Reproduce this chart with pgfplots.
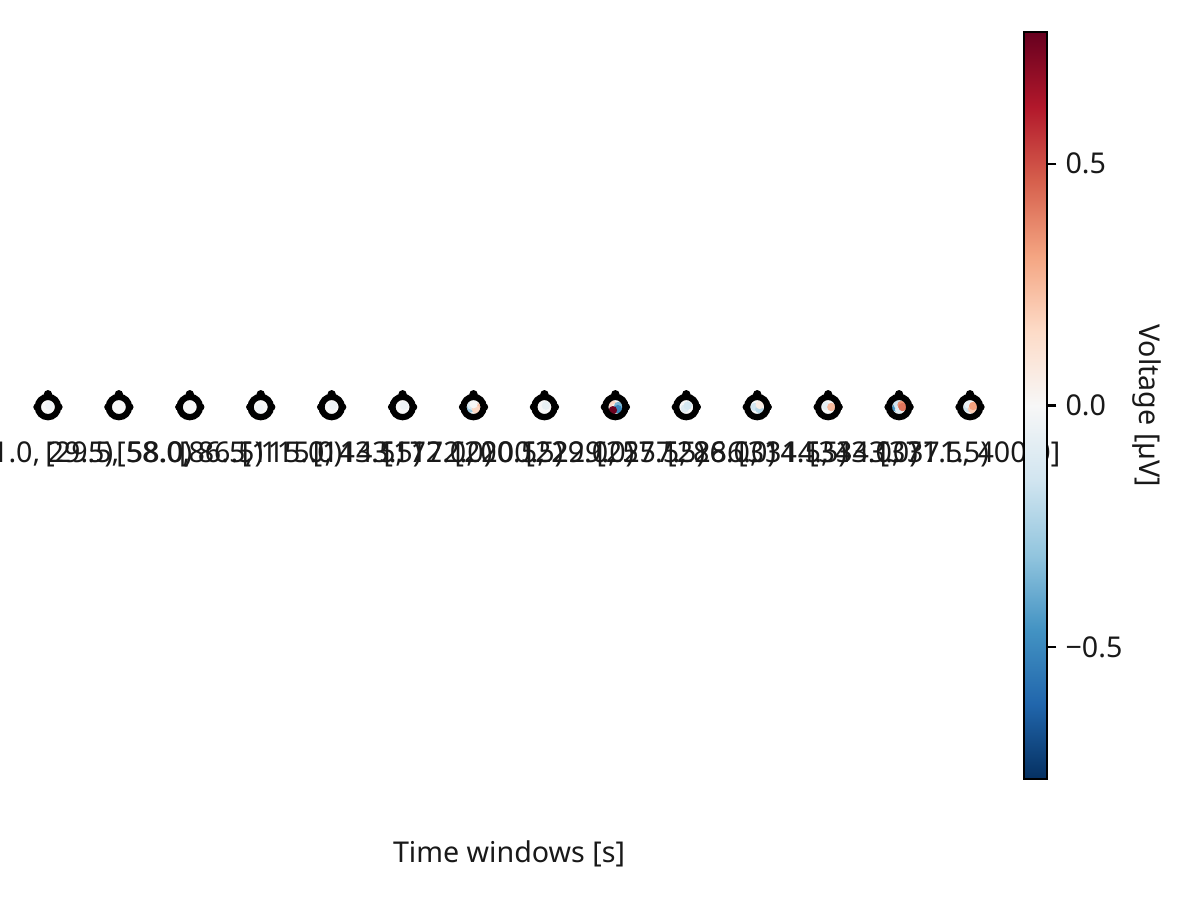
\documentclass[border=0pt]{standalone}
\usepackage{fontspec}
\setmainfont{Noto Sans}
\usepackage{pgfplots}
\usepackage{pgfplotstable}
\pgfplotsset{compat=1.18}
\pgfplotsset{colormap={RdBu}{rgb255=(5,48,97) rgb255=(33,102,172) rgb255=(67,147,195) rgb255=(146,197,222) rgb255=(209,229,240) rgb255=(247,247,247) rgb255=(253,219,199) rgb255=(244,165,130) rgb255=(214,96,77) rgb255=(178,24,43) rgb255=(103,0,31)}}
\definecolor{headfill}{RGB}{247,247,247}

% head centres (one per time window)
\pgfplotstableread{
x y
0 0
1 0
2 0
3 0
4 0
5 0
6 0
7 0
8 0
9 0
10 0
11 0
12 0
13 0
}\heads

% noses
\pgfplotstableread{
x y
0 0.18
1 0.18
2 0.18
3 0.18
4 0.18
5 0.18
6 0.18
7 0.18
8 0.18
9 0.18
10 0.18
11 0.18
12 0.18
13 0.18
}\noses

% ears
\pgfplotstableread{
x y
-0.155 0
0.155 0
0.845 0
1.155 0
1.845 0
2.155 0
2.845 0
3.155 0
3.845 0
4.155 0
4.845 0
5.155 0
5.845 0
6.155 0
6.845 0
7.155 0
7.845 0
8.155 0
8.845 0
9.155 0
9.845 0
10.155 0
10.845 0
11.155 0
11.845 0
12.155 0
12.845 0
13.155 0
}\ears

% topography patches inside the heads: x y voltage
\pgfplotstableread{
x y c
0.02 0.02 -0.03
2.98 -0.02 -0.03
4.02 0.02 -0.04
5.02 0.02 -0.04
5.96 -0.02 -0.28
5.97 0.02 -0.12
6.04 0.00 0.22
6.035 -0.035 0.16
6.00 0.04 0.00
7.02 0.02 -0.06
7.965 0.03 0.16
8.00 -0.01 0.04
8.04 0.015 -0.35
8.035 -0.03 -0.50
7.965 -0.045 0.76
8.98 -0.02 -0.10
9.02 0.02 -0.14
9.965 0.00 -0.15
10.03 -0.03 -0.22
10.035 0.03 0.06
10.97 0.015 -0.08
11.045 0.00 0.25
11.96 -0.01 -0.45
11.98 0.035 -0.15
12.00 -0.035 -0.10
12.035 0.03 0.35
12.05 0.00 0.42
12.965 -0.015 -0.16
12.98 0.035 -0.05
13.03 -0.03 0.20
13.045 0.015 0.32
}\patches

\begin{document}
\begin{tikzpicture}
\path[use as bounding box] (0,0) rectangle (460.8pt,345.6pt);
\begin{axis}[
  at={(4.8pt,46.46pt)}, anchor=south west,
  scale only axis, width=381.3pt, height=286.85pt,
  xmin=-0.5, xmax=13.5, ymin=-5.245, ymax=5.288,
  axis x line=middle, axis y line=none,
  axis line style={draw=none},
  xtick={0,...,13},
  xticklabels={{[1.0, 29.5)},{[29.5, 58.0)},{[58.0, 86.5)},{[86.5, 115.0)},{[115.0, 143.5)},{[143.5, 172.0)},{[172.0, 200.5)},{[200.5, 229.0)},{[229.0, 257.5)},{[257.5, 286.0)},{[286.0, 314.5)},{[314.5, 343.0)},{[343.0, 371.5)},{[371.5, 400.0]}},
  major tick length=0pt,
  xticklabel style={anchor=center, yshift=-18.0pt, font=\fontsize{11}{13.2}\selectfont, text=black!90},
  xlabel={Time windows [s]},
  xlabel style={at={(axis description cs:0.5,0)}, anchor=center, yshift=-28.8pt, font=\fontsize{11}{13.2}\selectfont, text=black!90},
  clip=false,
  colormap name=RdBu,
  point meta min=-0.772, point meta max=0.772,
  colorbar,
  colorbar style={
    at={(parent axis.north east)}, anchor=north west, xshift=-1.3pt,
    scale only axis, width=8.8pt, height=286.85pt,
    ytick={-0.5,0,0.5}, yticklabels={−0.5,0.0,0.5},
    ytick pos=right,
    tick align=outside, major tick length=3.5pt,
    ytick style={black, line width=0.8pt},
    axis line style={line width=0.8pt},
    yticklabel style={font=\fontsize{11}{13.2}\selectfont, text=black!90},
    ylabel={Voltage [µV]},
    ylabel style={at={(axis description cs:5.36,0.5)}, anchor=center, rotate=180, font=\fontsize{11}{13.2}\selectfont, text=black!90},
  },
]
% head interiors
\addplot[only marks, mark=*, mark size=2.8pt, mark options={draw=headfill, fill=headfill}] table[x=x,y=y] {\heads};
% topography patches
\addplot[scatter, only marks, mark=*, mark size=1.4pt, scatter src=explicit,
  scatter/use mapped color={draw=mapped color, fill=mapped color}] table[x=x,y=y,meta=c] {\patches};
% head outline
\addplot[only marks, mark=o, mark size=3.9pt, mark options={draw=black, line width=2.4pt}] table[x=x,y=y] {\heads};
% nose
\addplot[only marks, mark=*, mark size=1.4pt, mark options={draw=black, fill=black}] table[x=x,y=y] {\noses};
% ears
\addplot[only marks, mark=*, mark size=1.2pt, mark options={draw=black, fill=black}] table[x=x,y=y] {\ears};
\end{axis}
\end{tikzpicture}
\end{document}
